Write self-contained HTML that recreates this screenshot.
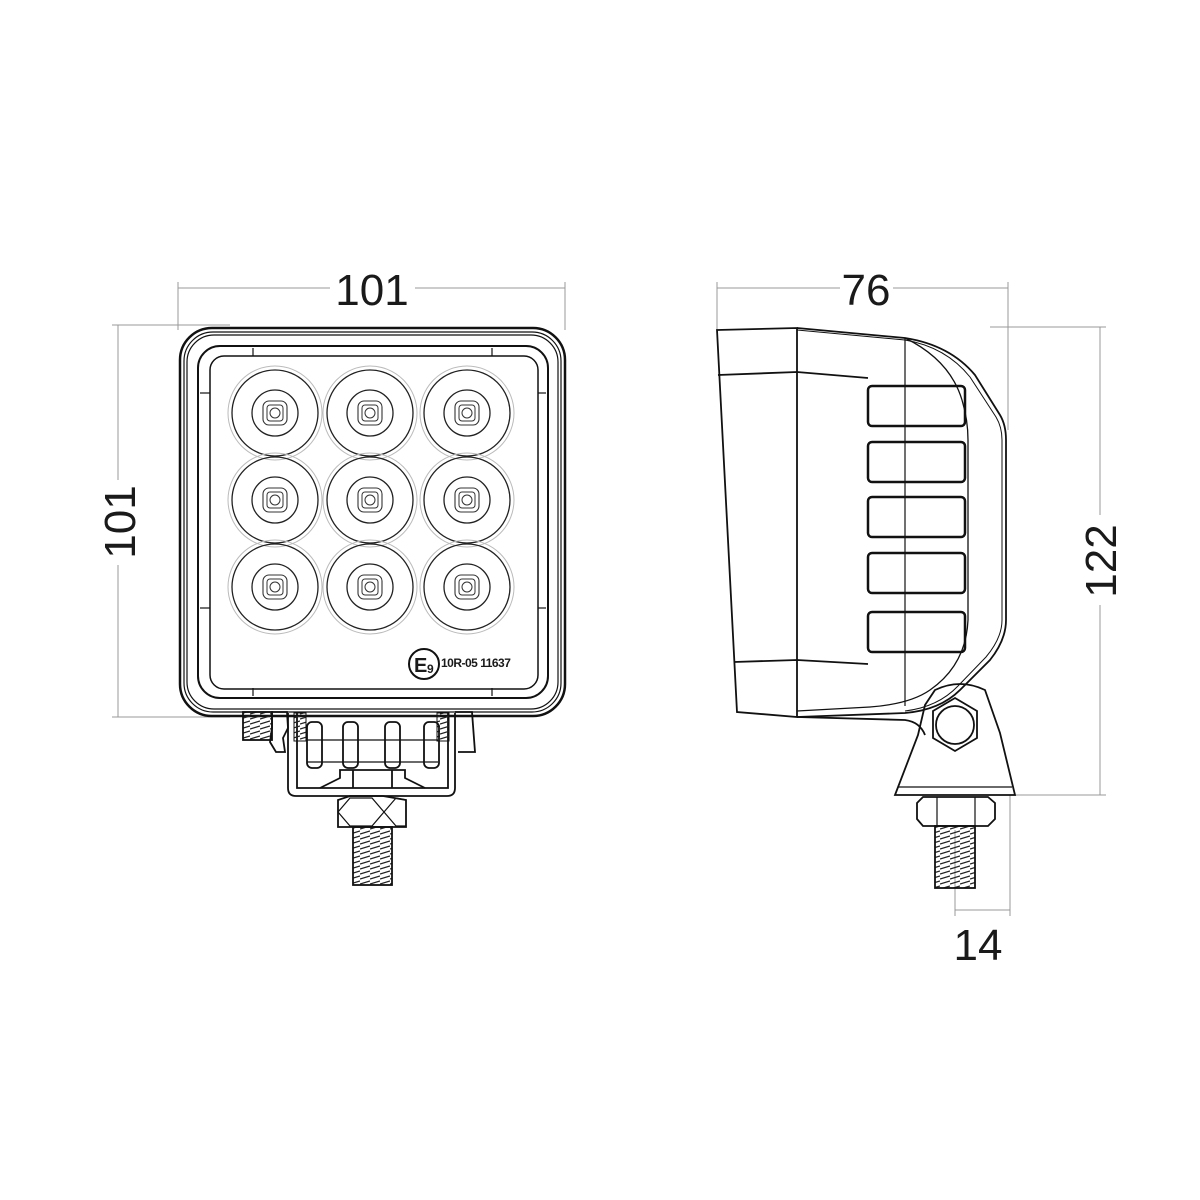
<!DOCTYPE html>
<html><head><meta charset="utf-8"><style>
html,body{margin:0;padding:0;background:#fff}
svg{display:block}
text{font-family:"Liberation Sans",sans-serif;fill:#1a1a1a}
</style></head><body>
<svg width="1200" height="1200" viewBox="0 0 1200 1200" xmlns="http://www.w3.org/2000/svg">
<defs>
<g id="led">
 <circle r="47" fill="none" stroke="#bbb" stroke-width="1"/>
 <circle r="43" fill="none" stroke="#222" stroke-width="1.3"/>
 <circle r="23" fill="none" stroke="#222" stroke-width="1.3"/>
 <rect x="-12" y="-12" width="24" height="24" rx="6" fill="none" stroke="#333" stroke-width="1.1"/>
 <rect x="-8" y="-8" width="16" height="16" rx="3" fill="none" stroke="#333" stroke-width="1"/>
 <circle r="5" fill="none" stroke="#333" stroke-width="1"/>
</g>
<pattern id="thr" width="10" height="5" patternUnits="userSpaceOnUse">
 <path d="M0 4 L10 1" stroke="#222" stroke-width="1.3"/>
</pattern>
</defs>

<!-- dimension lines -->
<g stroke="#999" stroke-width="1" fill="none">
 <line x1="178" y1="282" x2="178" y2="330"/>
 <line x1="565" y1="282" x2="565" y2="330"/>
 <line x1="178" y1="288" x2="330" y2="288"/>
 <line x1="415" y1="288" x2="565" y2="288"/>
 <line x1="112" y1="325" x2="230" y2="325"/>
 <line x1="112" y1="717" x2="230" y2="717"/>
 <line x1="118" y1="325" x2="118" y2="480"/>
 <line x1="118" y1="565" x2="118" y2="717"/>
 <line x1="717" y1="282" x2="717" y2="330"/>
 <line x1="1008" y1="282" x2="1008" y2="430"/>
 <line x1="717" y1="288" x2="840" y2="288"/>
 <line x1="893" y1="288" x2="1008" y2="288"/>
 <line x1="990" y1="327" x2="1106" y2="327"/>
 <line x1="1010" y1="795" x2="1106" y2="795"/>
 <line x1="1100" y1="327" x2="1100" y2="515"/>
 <line x1="1100" y1="605" x2="1100" y2="795"/>
 <line x1="955" y1="830" x2="955" y2="916"/>
 <line x1="1010" y1="795" x2="1010" y2="916"/>
 <line x1="955" y1="910" x2="1010" y2="910"/>
</g>
<text x="372" y="305" font-size="44" text-anchor="middle">101</text>
<text x="866" y="305" font-size="44" text-anchor="middle">76</text>
<text x="978" y="960" font-size="44" text-anchor="middle">14</text>
<text transform="translate(135,522) rotate(-90)" font-size="44" text-anchor="middle">101</text>
<text transform="translate(1116,561) rotate(-90)" font-size="44" text-anchor="middle">122</text>

<!-- FRONT VIEW -->
<g fill="none" stroke="#111">
 <rect x="180" y="328" width="385" height="388" rx="32" stroke-width="2.5"/>
 <rect x="184" y="332" width="377" height="380" rx="29" stroke-width="1.2"/>
 <rect x="187" y="335" width="371" height="374" rx="27" stroke-width="1.2"/>
 <rect x="198" y="346" width="350" height="352" rx="22" stroke-width="2"/>
 <rect x="210" y="356" width="328" height="333" rx="14" stroke-width="1.5"/>
 <line x1="253" y1="348" x2="253" y2="356" stroke-width="1.2"/>
 <line x1="492" y1="348" x2="492" y2="356" stroke-width="1.2"/>
 <line x1="253" y1="688" x2="253" y2="696" stroke-width="1.2"/>
 <line x1="492" y1="688" x2="492" y2="696" stroke-width="1.2"/>
 <line x1="200" y1="393" x2="210" y2="393" stroke-width="1.2"/>
 <line x1="200" y1="608" x2="210" y2="608" stroke-width="1.2"/>
 <line x1="538" y1="393" x2="546" y2="393" stroke-width="1.2"/>
 <line x1="538" y1="608" x2="546" y2="608" stroke-width="1.2"/>
</g>
<use href="#led" x="275" y="413"/><use href="#led" x="370" y="413"/><use href="#led" x="467" y="413"/>
<use href="#led" x="275" y="500"/><use href="#led" x="370" y="500"/><use href="#led" x="467" y="500"/>
<use href="#led" x="275" y="587"/><use href="#led" x="370" y="587"/><use href="#led" x="467" y="587"/>
<circle cx="424" cy="664" r="15" fill="none" stroke="#111" stroke-width="2"/>
<text x="414" y="672" font-size="20" font-weight="bold">E</text>
<text x="427" y="673" font-size="12" font-weight="bold">9</text>
<text x="441" y="667" font-size="12" font-weight="bold" letter-spacing="-0.5">10R-05 11637</text>

<!-- front bracket -->
<g fill="none" stroke="#111" stroke-width="1.8">
 <rect x="243" y="712" width="29" height="28" fill="url(#thr)"/>
 <path d="M272 712 L287 712 L288 728 L283 738 L285 752 L276 752 L270 742 L272 728 Z"/>
 <path d="M455 712 L472 712 L475 752 L458 752"/>
 <path d="M288 713 L288 788 Q288 796 296 796 L447 796 Q455 796 455 788 L455 713"/>
 <path d="M297 713 L297 788 L448 788 L448 713"/>
 <rect x="294" y="713" width="12" height="28" fill="url(#thr)" stroke-width="1"/>
 <rect x="437" y="713" width="12" height="28" fill="url(#thr)" stroke-width="1"/>
 <line x1="307" y1="740" x2="438" y2="740" stroke-width="1.2"/>
 <line x1="307" y1="762" x2="438" y2="762" stroke-width="1.2"/>
 <rect x="307" y="722" width="15" height="46" rx="5"/>
 <rect x="343" y="722" width="15" height="46" rx="5"/>
 <rect x="385" y="722" width="15" height="46" rx="5"/>
 <rect x="424" y="722" width="15" height="46" rx="5"/>
 <path d="M320 788 L340 778 L340 770 L405 770 L405 778 L425 788"/>
 <line x1="353" y1="770" x2="353" y2="788"/>
 <line x1="392" y1="770" x2="392" y2="788"/>
 <path d="M338 827 L338 800 L350 796 L372 796 L383 796 L406 800 L406 827 Z"/>
 <path d="M338 812 L350 798 L372 798 L384 812 L372 826 L350 826 Z M384 812 L396 798 L406 800 M384 812 L396 826 L406 826" stroke-width="1.2"/>
 <rect x="353" y="827" width="39" height="58" fill="url(#thr)"/>
</g>

<!-- SIDE VIEW -->
<g fill="none" stroke="#111" stroke-width="1.8">
 <path d="M717 330 L797 328 L797 717 L737 712 Z"/>
 <path d="M797 328 L905 338 Q950 345 975 375 L1000 415 Q1006 425 1006 440 L1006 620 Q1006 640 990 660 L960 690 Q940 710 905 713 L797 717"/>
 <path d="M797 330 L905 340 Q946 347 970 377 L996 417 Q1002 427 1002 440 L1002 620 Q1002 638 986 657 L958 686 Q938 707 905 711" stroke-width="1"/>
 <path d="M905 338 Q950 360 962 400 Q968 420 968 440 L968 620 Q966 665 930 690 Q910 704 870 707 L797 711" stroke-width="1.3"/>
 <path d="M718 375 L797 372 L868 378"/>
 <path d="M734 662 L797 660 L868 664"/>
 <line x1="905" y1="338" x2="905" y2="706" stroke-width="1.2"/>
 <rect x="868" y="386" width="97" height="40" rx="4" stroke-width="2.5"/>
 <rect x="868" y="442" width="97" height="40" rx="4" stroke-width="2.5"/>
 <rect x="868" y="497" width="97" height="40" rx="4" stroke-width="2.5"/>
 <rect x="868" y="553" width="97" height="40" rx="4" stroke-width="2.5"/>
 <rect x="868" y="612" width="97" height="40" rx="4" stroke-width="2.5"/>
 <path d="M797 717 L905 720 Q920 722 925 735"/>
 <path d="M895 795 L1015 795 L1000 733 L985 690 Q960 678 935 690 L925 705 L918 735 Z"/>
 <line x1="898" y1="787" x2="1012" y2="787" stroke-width="1.2"/>
 <path d="M955 698 L977 711 L977 738 L955 751 L933 738 L933 711 Z"/>
 <circle cx="955" cy="725" r="19"/>
 <path d="M917 803 L923 797 L988 797 L995 803 L995 819 L988 826 L923 826 L917 819 Z"/>
 <line x1="937" y1="797" x2="937" y2="826" stroke-width="1.2"/>
 <line x1="975" y1="797" x2="975" y2="826" stroke-width="1.2"/>
 <rect x="935" y="826" width="40" height="62" fill="url(#thr)"/>
</g>
</svg>
</body></html>
